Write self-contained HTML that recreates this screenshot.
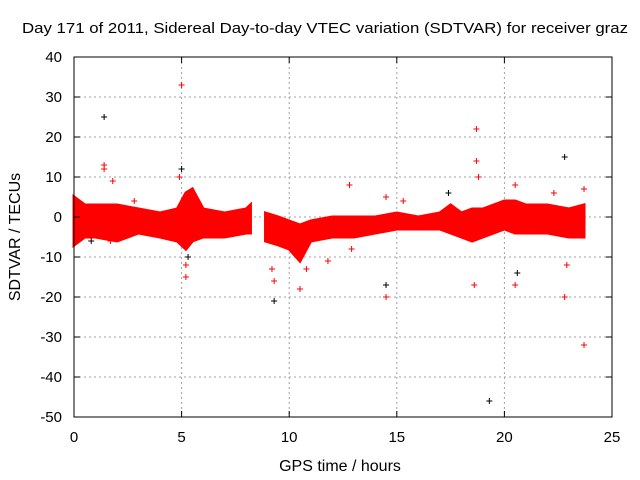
<!DOCTYPE html>
<html><head><meta charset="utf-8">
<style>
body{margin:0;background:#fff;}
svg{display:block;font-family:"Liberation Sans",sans-serif;}
</style></head><body>
<svg id="chart" width="640" height="480" viewBox="0 0 640 480">
<rect width="640" height="480" fill="#fff"/>
<text x="22" y="33" font-size="15" textLength="606" lengthAdjust="spacingAndGlyphs">Day 171 of 2011, Sidereal Day-to-day VTEC variation (SDTVAR) for receiver graz</text>
<text x="340" y="471" font-size="16" text-anchor="middle">GPS time / hours</text>
<text x="20" y="237" font-size="16" text-anchor="middle" transform="rotate(-90 20 237)">SDTVAR / TECUs</text>
<g id="grid"></g><g id="band"></g><g id="marks"></g><g id="axes"></g>
</svg>
<script>
const xTicks=[0,5,10,15,20,25];
const yTicks=[40,30,20,10,0,-10,-20,-30,-40,-50];
const bandSeg1Hours=[0,0.5,1,2,3,4,4.8,5.2,5.5,6,7,8,8.2];
const bandSeg1Low=[-7,-5,-5,-6,-4,-5,-6,-8,-6,-5,-5,-4,-4];
const bandSeg1High=[5,3,3,3,2,1,2,6,7,2,1,2,3];
const bandSeg2Hours=[8.9,9.5,10,10.5,11,12,13,14,15,16,17,17.5,18,18.5,19,19.5,20,20.5,21,22,23,23.7];
const bandSeg2Low=[-6,-7,-8,-11,-6,-5,-5,-4,-3,-3,-3,-4,-5,-6,-5,-4,-3,-4,-4,-4,-5,-5];
const bandSeg2High=[1,0,-1,-2,-1,0,0,0,1,0,1,3,1,2,2,3,4,4,3,3,2,3];
const outlierHours=[1.4,1.4,1.4,5,5,4.9,5.2,5.2,9.3,9.3,10.5,12.8,14.5,14.5,14.5,15.3,17.4,18.7,18.7,18.6,19.3,20.5,20.5,22.3,22.8,22.8,23.7,23.7,0.8,1.8,1.7,2.8,5.3,10.8,11.8,18.8,20.6,22.9,9.2,12.9];
const outlierValues=[25,13,12,33,12,10,-15,-12,-21,-16,-18,8,-17,-20,5,4,6,22,14,-17,-46,-17,8,6,15,-20,7,-32,-6,9,-6,4,-10,-13,-11,10,-14,-12,-13,-8];
const X=h=>74+h*(538/25);
const Y=v=>217-v*4;
const NS="http://www.w3.org/2000/svg";
function mk(t,a,p){const e=document.createElementNS(NS,t);for(const k in a)e.setAttribute(k,a[k]);p.appendChild(e);return e;}
const grid=document.getElementById('grid'),axes=document.getElementById('axes'),band=document.getElementById('band'),marks=document.getElementById('marks');
mk('rect',{x:74,y:57,width:538,height:360,fill:'none',stroke:'#000','stroke-width':1},axes);
xTicks.forEach(t=>{const x=X(t);
 if(t>0&&t<25){const g=mk('line',{x1:x,y1:57,x2:x,y2:417,stroke:'#a0a0a0','stroke-dasharray':'2,3'},grid);}
 mk('line',{x1:x,y1:417,x2:x,y2:411,stroke:'#000'},axes);mk('line',{x1:x,y1:57,x2:x,y2:63,stroke:'#000'},axes);
 const tx=mk('text',{x:x,y:442,'font-size':15,'text-anchor':'middle'},axes);tx.textContent=t;
 });
yTicks.forEach(t=>{const y=Y(t);
 if(t<40&&t>-50){const g=mk('line',{x1:74,y1:y,x2:612,y2:y,stroke:'#a0a0a0','stroke-dasharray':'2,3'},grid);}
 mk('line',{x1:74,y1:y,x2:80,y2:y,stroke:'#000'},axes);mk('line',{x1:612,y1:y,x2:606,y2:y,stroke:'#000'},axes);
 const tx=mk('text',{x:62,y:y+5,'font-size':15,'text-anchor':'end'},axes);tx.textContent=t;
 });
function drawBand(hs,lo,hi,name){
 const pts=hs.map((h,i)=>X(h)+','+Y(hi[i])).concat(hs.map((h,i)=>X(h)+','+Y(lo[i])).reverse());
 const p=mk('polygon',{points:pts.join(' '),fill:'#ff0000',stroke:'#ff0000','stroke-width':3},band);
 }
drawBand(bandSeg1Hours,bandSeg1Low,bandSeg1High,'data-band-segment-1');
drawBand(bandSeg2Hours,bandSeg2Low,bandSeg2High,'data-band-segment-2');
outlierHours.forEach((h,i)=>{const x=X(h),y=Y(outlierValues[i]);
 const g=mk('path',{d:`M${x-3},${y}h6M${x},${y-3}v6`,stroke:(i%4==0?'#000':'#ff0000'),'stroke-width':1},marks);
 });
</script>
</body></html>
